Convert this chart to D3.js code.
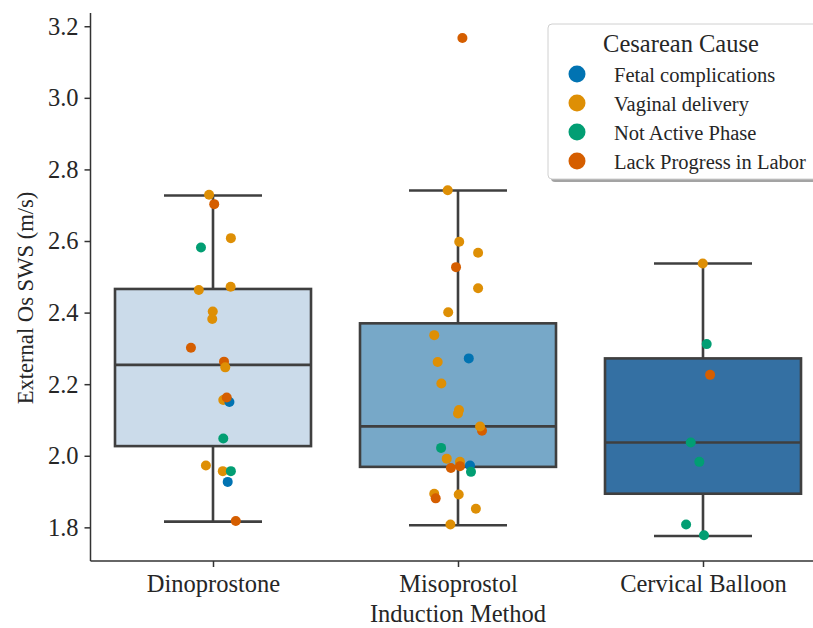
<!DOCTYPE html>
<html><head><meta charset="utf-8">
<script src="https://cdn.jsdelivr.net/npm/d3@7"></script>
<style>body{margin:0;background:#fff;} svg{display:block;}</style>
</head><body><svg id="c" width="813" height="628"></svg>
<script>
const categories = ["Dinoprostone", "Misoprostol", "Cervical Balloon"];
const causes = ["Fetal complications", "Vaginal delivery", "Not Active Phase", "Lack Progress in Labor"];
const causeColors = ["#0173b2", "#de8f05", "#029e73", "#d55e00"];
const boxColors = ["#cbdbea", "#77a8c8", "#3470a3"];
const yTicks = [1.8, 2.0, 2.2, 2.4, 2.6, 2.8, 3.0, 3.2];

// box statistics
const whiskerLow  = [1.816, 1.806, 1.776];
const q1          = [2.027, 1.969, 1.894];
const median      = [2.254, 2.082, 2.037];
const q3          = [2.466, 2.370, 2.272];
const whiskerHigh = [2.727, 2.741, 2.537];

// strip points: value, cause index, horizontal jitter (category units)
const dinoValues = [2.729, 2.703, 2.608, 2.582, 2.463, 2.472, 2.403, 2.382, 2.302, 2.263, 2.247, 2.156, 2.150, 2.163, 2.048, 1.973, 1.957, 1.957, 1.927, 1.818];
const dinoCause  = [1, 3, 1, 2, 1, 1, 1, 1, 3, 3, 1, 1, 0, 3, 2, 1, 1, 2, 0, 3];
const dinoJitter = [-0.016, 0.005, 0.073, -0.049, -0.058, 0.072, -0.001, -0.003, -0.090, 0.045, 0.050, 0.042, 0.067, 0.056, 0.042, -0.029, 0.040, 0.073, 0.060, 0.093];

const misoValues = [3.167, 2.742, 2.598, 2.567, 2.527, 2.468, 2.401, 2.337, 2.272, 2.262, 2.202, 2.128, 2.118, 2.070, 2.082, 2.022, 1.992, 1.983, 1.966, 1.971, 1.973, 1.955, 1.894, 1.881, 1.892, 1.852, 1.808];
const misoCause  = [3, 1, 1, 1, 3, 1, 1, 1, 0, 1, 1, 1, 1, 3, 1, 2, 1, 1, 3, 3, 0, 2, 1, 3, 1, 1, 1];
const misoJitter = [0.018, -0.042, 0.005, 0.082, -0.008, 0.082, -0.040, -0.097, 0.044, -0.083, -0.068, 0.004, 0.000, 0.098, 0.090, -0.069, -0.046, 0.008, -0.029, 0.008, 0.049, 0.053, -0.097, -0.091, 0.003, 0.073, -0.031];

const balloonValues = [2.537, 2.312, 2.226, 2.037, 1.983, 1.808, 1.778];
const balloonCause  = [1, 2, 3, 2, 2, 2, 2];
const balloonJitter = [-0.001, 0.015, 0.029, -0.050, -0.015, -0.069, 0.004];

const groups = [
  {values: dinoValues, cause: dinoCause, jitter: dinoJitter},
  {values: misoValues, cause: misoCause, jitter: misoJitter},
  {values: balloonValues, cause: balloonCause, jitter: balloonJitter}
];

const svg = d3.select("#c");
const padL = 90.5, padR = 825.5, padT = 13, padB = 561;
const FONT = "'Liberation Serif','Times New Roman',serif";
const EDGE = "#3f3f3f";

const x = d3.scaleLinear().domain([-0.5, 2.5]).range([padL, padR]);
const y = d3.scaleLinear().domain([1.706, 3.237]).range([padB, padT]);

// boxes
const bw = 0.4, cap = 0.2;
categories.forEach((c, i) => {
  const g = svg.append("g");
  g.append("line").attr("x1", x(i)).attr("x2", x(i)).attr("y1", y(q3[i])).attr("y2", y(whiskerHigh[i]))
    .attr("stroke", EDGE).attr("stroke-width", 2.6);
  g.append("line").attr("x1", x(i)).attr("x2", x(i)).attr("y1", y(q1[i])).attr("y2", y(whiskerLow[i]))
    .attr("stroke", EDGE).attr("stroke-width", 2.6);
  g.append("line").attr("x1", x(i - cap)).attr("x2", x(i + cap)).attr("y1", y(whiskerHigh[i])).attr("y2", y(whiskerHigh[i]))
    .attr("stroke", EDGE).attr("stroke-width", 2.6);
  g.append("line").attr("x1", x(i - cap)).attr("x2", x(i + cap)).attr("y1", y(whiskerLow[i])).attr("y2", y(whiskerLow[i]))
    .attr("stroke", EDGE).attr("stroke-width", 2.6);
  g.append("rect").attr("x", x(i - bw)).attr("width", x(i + bw) - x(i - bw))
    .attr("y", y(q3[i])).attr("height", y(q1[i]) - y(q3[i]))
    .attr("fill", boxColors[i]).attr("stroke", EDGE).attr("stroke-width", 2.6);
  g.append("line").attr("x1", x(i - bw)).attr("x2", x(i + bw)).attr("y1", y(median[i])).attr("y2", y(median[i]))
    .attr("stroke", EDGE).attr("stroke-width", 2.6);
});

// points
groups.forEach((grp, i) => {
  svg.append("g").selectAll("circle").data(grp.values).join("circle")
    .attr("cx", (d, k) => x(i + grp.jitter[k]))
    .attr("cy", d => y(d))
    .attr("r", 5)
    .attr("fill", (d, k) => causeColors[grp.cause[k]]);
});

// axes
const yAxis = d3.axisLeft(y).tickValues(yTicks).tickFormat(d3.format(".1f")).tickSize(6).tickPadding(6);
const ya = svg.append("g").attr("transform", `translate(${padL},0)`).call(yAxis);
const xAxis = d3.axisBottom(x).tickValues([0, 1, 2]).tickFormat(i => categories[i]).tickSize(6).tickPadding(8);
const xa = svg.append("g").attr("transform", `translate(0,${padB})`).call(xAxis);
[ya, xa].forEach(a => {
  a.select(".domain").attr("stroke", "#333").attr("stroke-width", 1.5);
  a.selectAll(".tick line").attr("stroke", "#333").attr("stroke-width", 1.5);
  a.selectAll("text").attr("font-family", FONT).attr("font-size", 24.5).attr("fill", "#262626");
});
ya.select(".domain").attr("d", `M0,${padB}V${padT}`);
xa.select(".domain").attr("d", `M${padL},0H${padR}`);

svg.append("text").attr("transform", `translate(33,298) rotate(-90)`)
  .attr("text-anchor", "middle").attr("font-family", FONT).attr("font-size", 22.6).attr("fill", "#262626")
  .text("External Os SWS (m/s)");
svg.append("text").attr("x", x(1)).attr("y", 622)
  .attr("text-anchor", "middle").attr("font-family", FONT).attr("font-size", 24.5).attr("fill", "#262626")
  .text("Induction Method");

// legend
const lg = svg.append("g");
lg.append("rect").attr("x", 551).attr("y", 27).attr("width", 280).attr("height", 155).attr("rx", 4)
  .attr("fill", "#999").attr("opacity", 0.9);
lg.append("rect").attr("x", 548).attr("y", 24).attr("width", 280).attr("height", 155).attr("rx", 4)
  .attr("fill", "#fff").attr("stroke", "#d0d0d0").attr("stroke-width", 1);
lg.append("text").attr("x", 681).attr("y", 52).attr("text-anchor", "middle")
  .attr("font-family", FONT).attr("font-size", 24.5).attr("fill", "#262626").text("Cesarean Cause");
causes.forEach((c, k) => {
  const cy = 74 + k * 29;
  lg.append("circle").attr("cx", 577).attr("cy", cy).attr("r", 8.5).attr("fill", causeColors[k]);
  lg.append("text").attr("x", 614).attr("y", cy + 7.5).attr("font-family", FONT).attr("font-size", 20.5)
    .attr("fill", "#262626").text(c);
});
</script></body></html>
